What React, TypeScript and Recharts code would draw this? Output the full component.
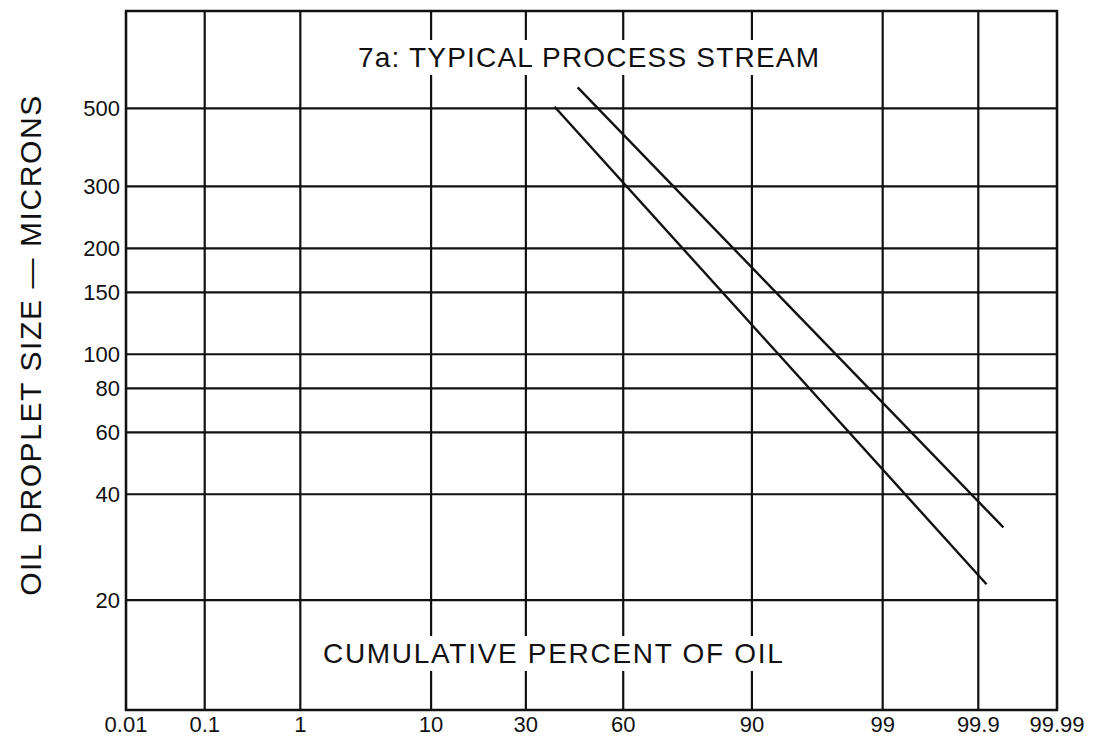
import { CartesianGrid, Line, LineChart, ReferenceArea, XAxis, YAxis } from "recharts"

// cumulative percent ticks on probability paper
const xTickPercents = [0.01, 0.1, 1, 10, 30, 60, 90, 99, 99.9, 99.99]
const xTickLabels = ["0.01", "0.1", "1", "10", "30", "60", "90", "99", "99.9", "99.99"]

// droplet size ticks (microns, log scale)
const yTicks = [20, 40, 60, 80, 100, 150, 200, 300, 500]
const yDomain = [9.75, 945]

// the two distribution lines
const lowerPercent = [38.4, 99.92]
const lowerSize = [505, 22.2]
const upperPercent = [45.6, 99.95]
const upperSize = [573, 32.2]

const font = "'Liberation Sans', Arial, Helvetica, sans-serif"
const ink = "#111"

// inverse normal CDF (Acklam) - maps percent onto the probability axis
function probit(p: number) {
  const a = [-39.69683028665376, 220.9460984245205, -275.9285104469687, 138.357751867269, -30.66479806614716, 2.506628277459239]
  const b = [-54.47609879822406, 161.5858368580409, -155.6989798598866, 66.80131188771972, -13.28068655257058]
  const c = [-0.007784894002430293, -0.3223964580411365, -2.400758277161838, -2.549671231754019, 4.374664141464968, 2.938163982698783]
  const d = [0.007784695709041462, 0.3224671290700398, 2.445134137142996, 3.754408661907416]
  const plow = 0.02425
  if (p < plow) {
    const q = Math.sqrt(-2 * Math.log(p))
    return (((((c[0] * q + c[1]) * q + c[2]) * q + c[3]) * q + c[4]) * q + c[5]) / ((((d[0] * q + d[1]) * q + d[2]) * q + d[3]) * q + 1)
  }
  if (p > 1 - plow) {
    const q = Math.sqrt(-2 * Math.log(1 - p))
    return -(((((c[0] * q + c[1]) * q + c[2]) * q + c[3]) * q + c[4]) * q + c[5]) / ((((d[0] * q + d[1]) * q + d[2]) * q + d[3]) * q + 1)
  }
  const q = p - 0.5
  const r = q * q
  return ((((((a[0] * r + a[1]) * r + a[2]) * r + a[3]) * r + a[4]) * r + a[5]) * q) / (((((b[0] * r + b[1]) * r + b[2]) * r + b[3]) * r + b[4]) * r + 1)
}

const z = (pct: number) => probit(pct / 100)
const xTicks = xTickPercents.map(z)
const xDomain = [xTicks[0], xTicks[xTicks.length - 1]]

const toRows = (pcts: number[], sizes: number[]) => pcts.map((p, i) => ({ z: z(p), size: sizes[i] }))
const lowerLine = toRows(lowerPercent, lowerSize)
const upperLine = toRows(upperPercent, upperSize)

const textBox = {
  position: "absolute" as const,
  background: "#fff",
  color: ink,
  fontFamily: font,
  fontSize: 28,
  lineHeight: "35px",
  padding: "0 4px",
  whiteSpace: "nowrap" as const,
}

function XTick({ x, y, index }: any) {
  return (
    <text x={x} y={y + 20} textAnchor="middle" fill={ink} fontSize={22} fontFamily={font}>
      {xTickLabels[index]}
    </text>
  )
}

function YTick({ x, y, payload }: any) {
  return (
    <text x={x} y={y + 8} textAnchor="end" fill={ink} fontSize={22} fontFamily={font}>
      {payload.value}
    </text>
  )
}

export default function App() {
  return (
    <div style={{ position: "absolute", left: 0, top: 0, width: 1100, height: 742, background: "#fff" }}>
      <LineChart width={1100} height={742} margin={{ top: 11, right: 43, bottom: 0, left: 0 }}>
        <CartesianGrid stroke={ink} strokeWidth={2.2} />
        <XAxis
          allowDataOverflow
          axisLine={false}
          dataKey="z"
          domain={xDomain}
          height={32}
          interval={0}
          tick={<XTick />}
          tickLine={false}
          tickSize={0}
          ticks={xTicks}
          type="number"
        />
        <YAxis
          allowDataOverflow
          axisLine={false}
          domain={yDomain}
          interval={0}
          scale="log"
          tick={<YTick />}
          tickLine={false}
          tickMargin={6}
          tickSize={0}
          ticks={yTicks}
          type="number"
          width={126}
        />
        <ReferenceArea x1={xDomain[0]} x2={xDomain[1]} y1={yDomain[0]} y2={yDomain[1]} fill="none" stroke={ink} strokeWidth={2.4} />
        <Line data={lowerLine} dataKey="size" dot={false} isAnimationActive={false} stroke={ink} strokeWidth={2.4} type="linear" />
        <Line data={upperLine} dataKey="size" dot={false} isAnimationActive={false} stroke={ink} strokeWidth={2.4} type="linear" />
      </LineChart>
      <div style={{ ...textBox, left: 354, top: 40, letterSpacing: 1.2 }}>7a: TYPICAL PROCESS STREAM</div>
      <div style={{ ...textBox, left: 319, top: 636, letterSpacing: 1.7 }}>CUMULATIVE PERCENT OF OIL</div>
      <div
        style={{
          position: "absolute",
          left: 31,
          top: 345,
          transform: "translate(-50%, -50%) rotate(-90deg)",
          color: ink,
          fontFamily: font,
          fontSize: 30,
          letterSpacing: 1.6,
          whiteSpace: "nowrap",
        }}
      >
        OIL DROPLET SIZE — MICRONS
      </div>
    </div>
  )
}
